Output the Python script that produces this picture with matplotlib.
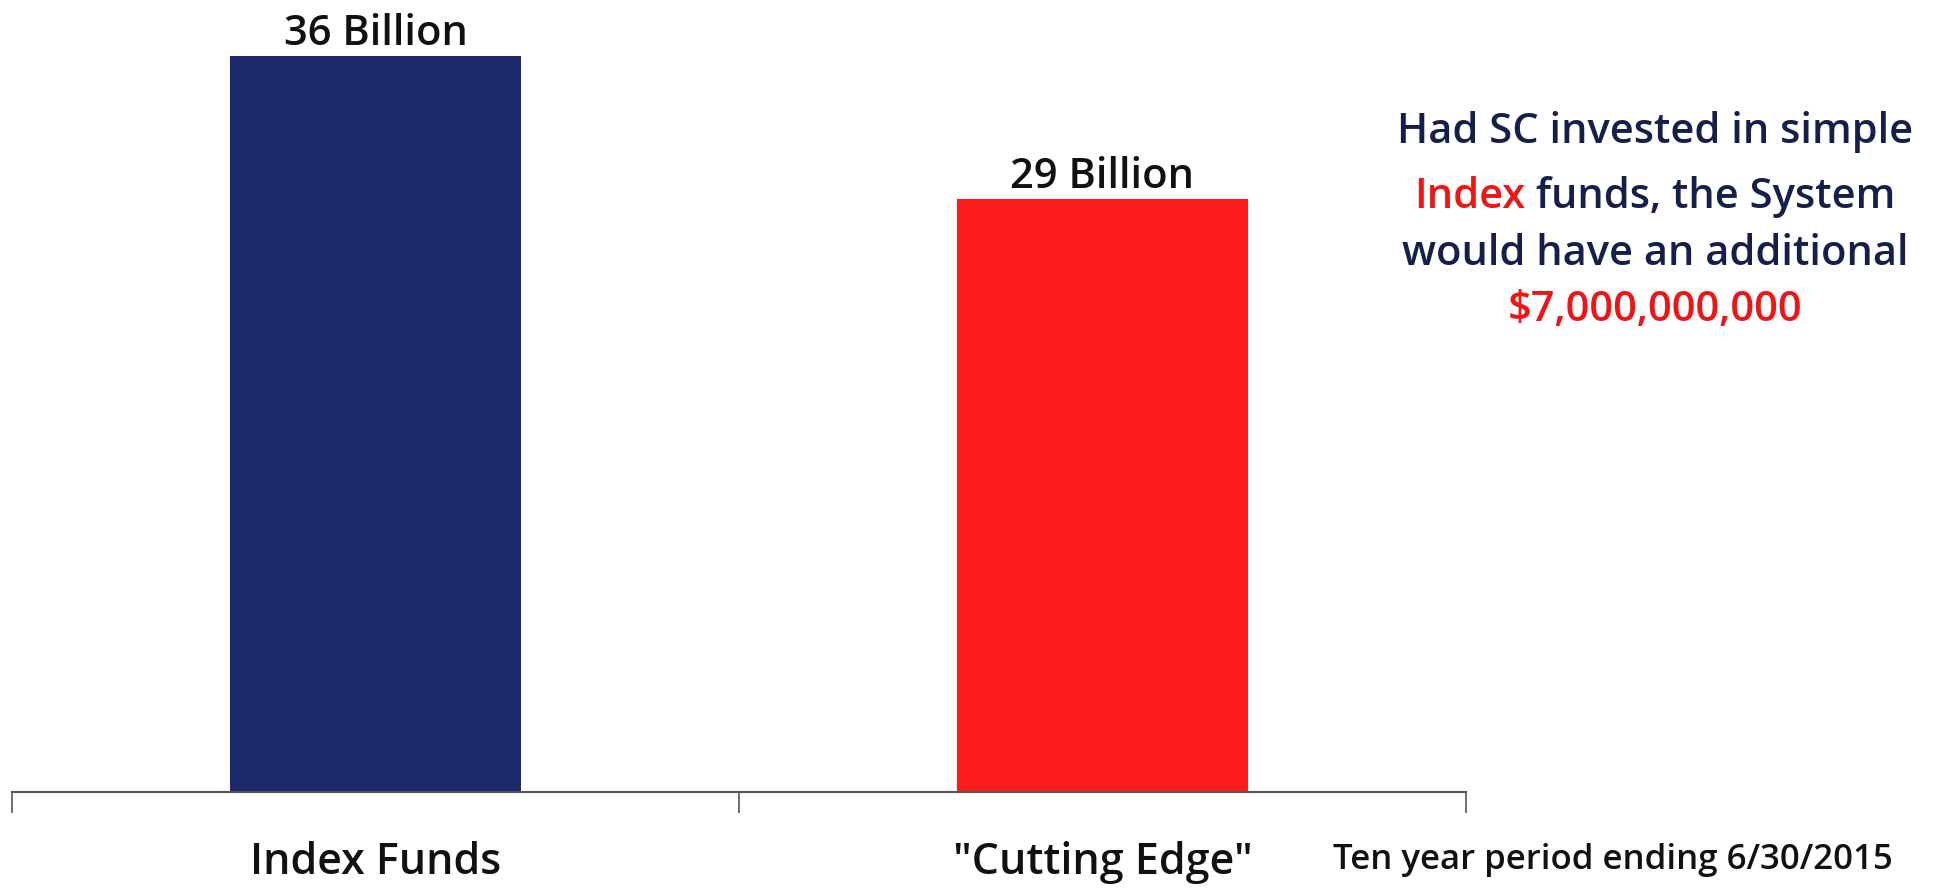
import numpy as np
import matplotlib.pyplot as plt

categories = ['Index Funds', '"Cutting Edge"']
values = [36, 29]
value_labels = ['36 Billion', '29 Billion']
bar_colors = ['#1c2a6c', '#fe1c1c']

navy = '#15204a'
red = '#f01414'

plt.rcParams['font.family'] = ['Open Sans', 'DejaVu Sans']
plt.rcParams['font.weight'] = 'semibold'

fig = plt.figure(figsize=(19.4, 8.88), dpi=100)
ax = fig.add_axes([12 / 1940, 96 / 888, 1454 / 1940, 792 / 888])

x = np.arange(len(categories))
ax.bar(x, values, width=0.4, color=bar_colors, zorder=2)
for xi, v, lab in zip(x, values, value_labels):
    ax.text(xi, v + 0.05, lab, ha='center', va='bottom', fontsize=30, color='#111111')

ax.set_xlim(-0.5, 1.5)
ax.set_ylim(0, 38.75)
for s in ['top', 'right', 'left']:
    ax.spines[s].set_visible(False)
ax.spines['bottom'].set_color('#555555')
ax.spines['bottom'].set_linewidth(1.5)
ax.set_yticks([])
ax.set_xticks([-0.5, 0.5, 1.5])
ax.set_xticklabels([])
ax.tick_params(axis='x', direction='out', length=15, width=1.2, color='#555555')
for xi, c in zip(x, categories):
    ax.text(xi, -3.45, c, ha='center', va='center', fontsize=31, color='#111111')

fig.text(1613 / 1940, 1 - 860 / 888, 'Ten year period ending 6/30/2015',
         ha='center', va='center', fontsize=25, color='#111111')

# note on the right
cx = 1655 / 1940
fs = 30
fig.text(cx, 1 - 132 / 888, 'Had SC invested in simple', ha='center', va='center',
         fontsize=fs, color=navy)
t1 = fig.text(0, 1 - 197 / 888, 'Index', ha='left', va='center', fontsize=fs, color=red)
t2 = fig.text(0, 1 - 197 / 888, ' funds, the System', ha='left', va='center',
              fontsize=fs, color=navy)
fig.text(cx, 1 - 254 / 888, 'would have an additional', ha='center', va='center',
         fontsize=fs, color=navy)
fig.text(cx, 1 - 310 / 888, '$7,000,000,000', ha='center', va='center',
         fontsize=fs, color=red)

fig.canvas.draw()
r = fig.canvas.get_renderer()
w1 = t1.get_window_extent(r).width / fig.bbox.width
w2 = t2.get_window_extent(r).width / fig.bbox.width
start = cx - (w1 + w2) / 2
t1.set_x(start)
t2.set_x(start + w1)

fig.savefig('out.png', dpi=100, facecolor='white')
